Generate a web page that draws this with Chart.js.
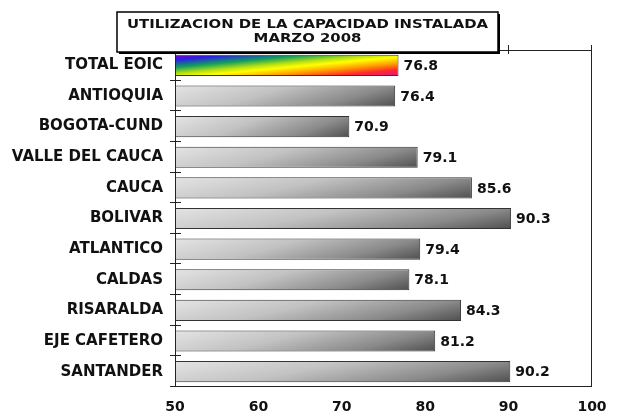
<!DOCTYPE html>
<html>
<head>
<meta charset="utf-8">
<script src="https://cdn.jsdelivr.net/npm/chart.js@4"></script>
<style>
  html, body { margin: 0; padding: 0; background: #fff; }
  #wrap { width: 621px; height: 414px; }
</style>
</head>
<body>
<div id="wrap"><canvas id="chart" width="621" height="414"></canvas></div>
<script>
// data
const categories = ['TOTAL EOIC', 'ANTIOQUIA', 'BOGOTA-CUND', 'VALLE DEL CAUCA', 'CAUCA', 'BOLIVAR',
    'ATLANTICO', 'CALDAS', 'RISARALDA', 'EJE CAFETERO', 'SANTANDER'];
const utilizacion = [76.8, 76.4, 70.9, 79.1, 85.6, 90.3, 79.4, 78.1, 84.3, 81.2, 90.2];
const xTicks = [50, 60, 70, 80, 90, 100];
const titleLines = ['UTILIZACION DE LA CAPACIDAD INSTALADA', 'MARZO 2008'];

const FONT = '"DejaVu Sans", Verdana, sans-serif';

// gradients: rainbow for the total, gray for the rest
const barFill = {
    id: 'barFill',
    beforeDatasetsDraw(chart) {
        const ctx = chart.ctx;
        chart.getDatasetMeta(0).data.forEach((el, i) => {
            // bars start at value 0, far left of the visible axis; clamp to the plot
            const x0 = Math.max(Math.min(el.base, el.x), chart.chartArea.left);
            const x1 = Math.max(el.base, el.x);
            const top = el.y - el.height / 2, bot = el.y + el.height / 2;
            const w = x1 - x0, h = bot - top;
            let g;
            if (i === 0) {
                const n = Math.sqrt(w * w + h * h), L = 2 * w * h / n;
                g = ctx.createLinearGradient(x0, top, x0 + h * L / n, top + w * L / n);
                g.addColorStop(0, '#8a00c8');
                g.addColorStop(0.12, '#2a1ee6');
                g.addColorStop(0.3, '#12a05a');
                g.addColorStop(0.45, '#b8e010');
                g.addColorStop(0.55, '#ffff00');
                g.addColorStop(0.7, '#ffa000');
                g.addColorStop(0.85, '#ff2a2a');
                g.addColorStop(1, '#e0108a');
            } else {
                const a = 0.75 / w, b = 0.25 / h, s = a * a + b * b;
                g = ctx.createLinearGradient(x0, top, x0 + a / s, top + b / s);
                g.addColorStop(0, '#e4e4e4');
                g.addColorStop(0.4, '#c2c2c2');
                g.addColorStop(0.75, '#8a8a8a');
                g.addColorStop(1, '#4e4e4e');
            }
            // options are shared between bars, so give each bar its own copy
            el.options = Object.assign({}, el.options, { backgroundColor: g });
        });
    }
};

// frame, ticks, value labels and title box
const decor = {
    id: 'decor',
    afterDatasetsDraw(chart) {
        const ctx = chart.ctx, a = chart.chartArea;
        const xs = chart.scales.x;
        ctx.save();
        ctx.strokeStyle = '#222';
        ctx.lineWidth = 1;
        ctx.beginPath();
        // left axis
        ctx.moveTo(a.left + 0.5, a.top); ctx.lineTo(a.left + 0.5, a.bottom);
        // top, right, bottom border
        ctx.moveTo(a.left, a.top + 0.5); ctx.lineTo(a.right, a.top + 0.5);
        ctx.moveTo(a.right - 0.5, a.top - 5); ctx.lineTo(a.right - 0.5, a.bottom);
        ctx.moveTo(a.left, a.bottom - 0.5); ctx.lineTo(a.right, a.bottom - 0.5);
        // top ticks
        xTicks.slice(1).forEach(v => {
            const x = Math.round(xs.getPixelForValue(v)) - 0.5;
            ctx.moveTo(x, a.top - 5); ctx.lineTo(x, a.top + 4);
        });
        // category boundary ticks
        const band = (a.bottom - a.top) / categories.length;
        for (let k = 1; k <= categories.length; k++) {
            const y = Math.round(a.top + k * band) - 0.5;
            ctx.moveTo(a.left - 5, y); ctx.lineTo(a.left + 6, y);
        }
        ctx.stroke();

        // value labels
        ctx.fillStyle = '#111';
        ctx.font = 'bold 14px ' + FONT;
        ctx.textAlign = 'left';
        ctx.textBaseline = 'middle';
        chart.getDatasetMeta(0).data.forEach((el, i) => {
            ctx.fillText(utilizacion[i].toFixed(1), el.x + 5, el.y + 1);
        });

        // title box
        const bx = 117, by = 12, bw = 381, bh = 40;
        ctx.fillStyle = '#000';
        ctx.fillRect(bx + 2, by + 2, bw, bh);
        ctx.fillStyle = '#fff';
        ctx.fillRect(bx, by, bw, bh);
        ctx.lineWidth = 1.5;
        ctx.strokeStyle = '#000';
        ctx.strokeRect(bx, by, bw, bh);
        ctx.fillStyle = '#111';
        ctx.font = 'bold 12px ' + FONT;
        ctx.textAlign = 'center';
        const cx = bx + bw / 2;
        [25, 39].forEach((y, k) => {
            ctx.save();
            ctx.translate(cx, y);
            ctx.scale(1.24, 1);
            ctx.fillText(titleLines[k], 0, 0);
            ctx.restore();
        });
        ctx.restore();
    }
};

new Chart(document.getElementById('chart'), {
    type: 'bar',
    data: {
        labels: categories,
        datasets: [{
            data: utilizacion,
            backgroundColor: '#999',
            borderColor: '#333',
            borderWidth: 1,
            borderSkipped: false,
            categoryPercentage: 1,
            barPercentage: 0.69
        }]
    },
    options: {
        indexAxis: 'y',
        responsive: false,
        animation: false,
        layout: { padding: { left: 0, right: 29, top: 50, bottom: 0 } },
        plugins: { legend: { display: false }, tooltip: { enabled: false }, title: { display: false } },
        scales: {
            x: {
                min: 50, max: 100,
                afterBuildTicks: s => { s.ticks = xTicks.map(v => ({ value: v })); },
                grid: { display: false, drawTicks: false },
                border: { display: false },
                ticks: { color: '#111', font: { family: FONT, size: 14, weight: 'bold' }, padding: 12, maxRotation: 0 },
                afterFit: s => { s.height = 27; }
            },
            y: {
                grid: { display: false, drawTicks: false },
                border: { display: false },
                ticks: { color: '#111', font: { family: FONT, size: 15, weight: 'bold' }, padding: 12, autoSkip: false },
                afterFit: s => { s.width = 175; }
            }
        }
    },
    plugins: [barFill, decor]
});
</script>
</body>
</html>
